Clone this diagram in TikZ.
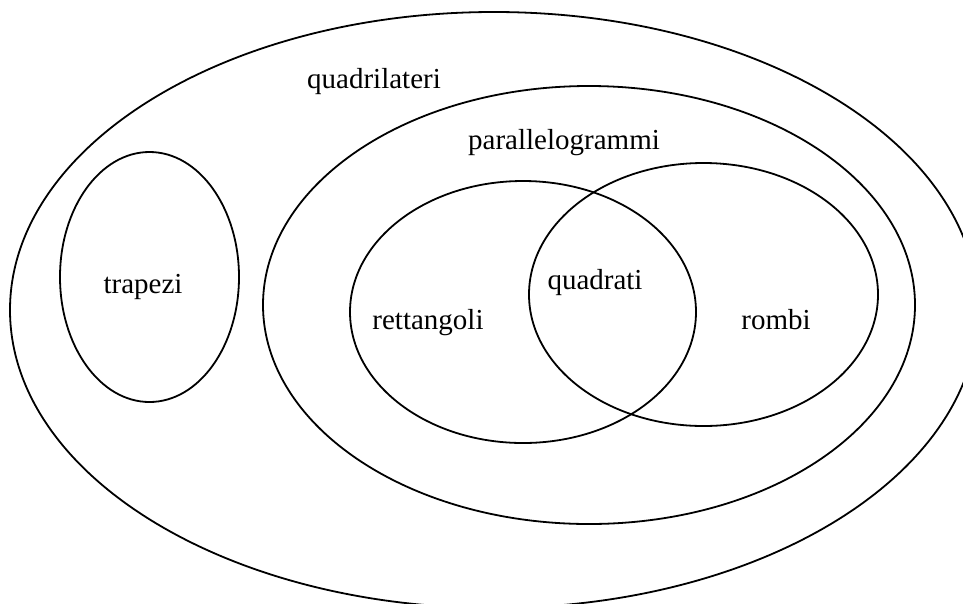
\documentclass[tikz,border=0pt]{standalone}
\usepackage{fontspec}
\setmainfont{Liberation Serif}
\begin{document}
\begin{tikzpicture}[x=1pt,y=-1pt,
  set/.style={draw=black,line width=1.8pt},
  lab/.style={inner sep=0pt,anchor=base,font=\fontsize{29}{34}\selectfont}]
\useasboundingbox (0,0) rectangle (963,603);
\clip (0,0) rectangle (963,603);
\coordinate (cQ) at (494,310);
\coordinate (cP) at (589,305);
\coordinate (cT) at (149.5,277);
\coordinate (cR) at (523,312);
\coordinate (cB) at (703.5,294.5);
\draw[set] (cQ) ellipse [x radius=484, y radius=298];
\draw[set] (cP) ellipse [x radius=326, y radius=219];
\draw[set] (cT) ellipse [x radius=89.5, y radius=125];
\draw[set] (cR) ellipse [x radius=173, y radius=131];
\draw[set] (cB) ellipse [x radius=174.5, y radius=131.5];
\node[lab] (quadrilateri) at (374,88) {quadrilateri};
\node[lab] (parallelogrammi) at (564,149) {parallelogrammi};
\node[lab] (trapezi) at (143,293) {trapezi};
\node[lab] (rettangoli) at (428,329) {rettangoli};
\node[lab] (quadrati) at (595,289) {quadrati};
\node[lab] (rombi) at (776,329) {rombi};
\end{tikzpicture}
\end{document}
